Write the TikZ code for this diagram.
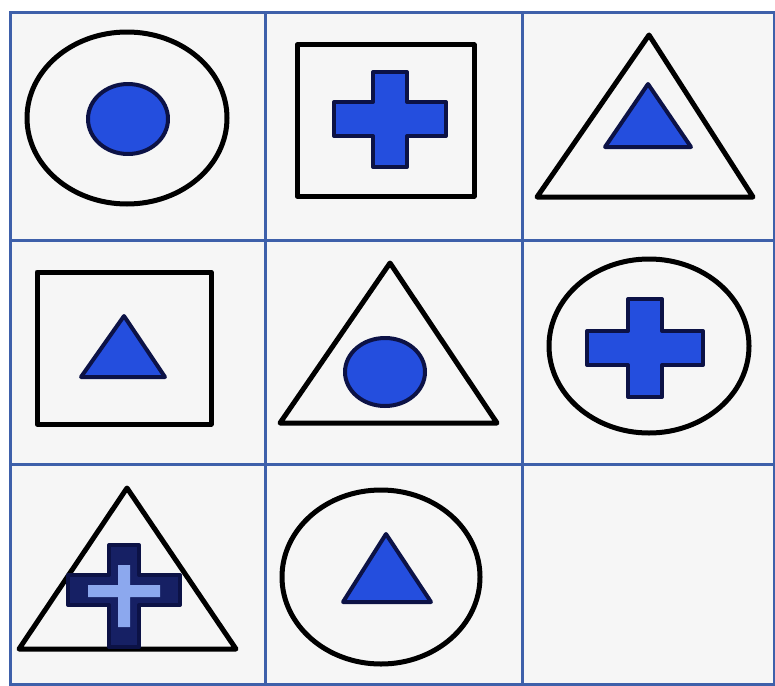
\documentclass[tikz,border=0pt]{standalone}
\usepackage{xcolor}
\usepackage{tikz}
\definecolor{gridblue}{RGB}{62,96,170}
\definecolor{shapeblue}{RGB}{36,78,222}
\definecolor{shapenavy}{RGB}{12,18,70}
\definecolor{shapedark}{RGB}{22,32,100}
\definecolor{shapelight}{RGB}{140,168,238}
\definecolor{paper}{RGB}{246,246,246}

% plus sign: centre x, centre y, arm left/right, arm up, arm down, half thickness
\newcommand{\plussign}[7]{%
  \draw[#1] (#2-#7,#3-#5) -- (#2+#7,#3-#5) -- (#2+#7,#3-#7)
    -- (#2+#4,#3-#7) -- (#2+#4,#3+#7) -- (#2+#7,#3+#7)
    -- (#2+#7,#3+#6) -- (#2-#7,#3+#6) -- (#2-#7,#3+#7)
    -- (#2-#4,#3+#7) -- (#2-#4,#3-#7) -- (#2-#7,#3-#7) -- cycle;}

\begin{document}
\begin{tikzpicture}[
          x=1pt, y=-1pt,
          gridline/.style={draw=gridblue, line width=3pt},
          outline/.style={draw=black, line width=5pt, line join=round},
          bluefill/.style={fill=shapeblue, draw=shapenavy,
                           line width=4pt, line join=round},
          darkfill/.style={fill=shapedark, draw=shapenavy,
                           line width=4pt, line join=round},
          lightfill/.style={fill=shapelight, draw=none}]
        \useasboundingbox[fill=white] (0,0) rectangle (775,685);
        \fill[paper] (10,13) rectangle (775,685);
        % grid
        \draw[gridline] (10,13) rectangle (774,684);
        \draw[gridline] (265,13) -- (265,684);
        \draw[gridline] (522,13) -- (522,684);
        \draw[gridline] (10,240) -- (774,240);
        \draw[gridline] (10,464) -- (774,464);
        % row 1
        \draw[outline] (127,118) ellipse [x radius=100, y radius=86];
        \draw[bluefill] (128,119) ellipse [x radius=40, y radius=35];
        \draw[outline] (297,45) rectangle (474,196);
        \plussign{bluefill}{390}{119}{56}{47}{48}{17}
        \draw[outline] (649,35) -- (753,197) -- (537,197) -- cycle;
        \draw[bluefill] (648,84) -- (691,147) -- (605,147) -- cycle;
        % row 2
        \draw[outline] (37,272) rectangle (211,424);
        \draw[bluefill] (124,316) -- (165,377) -- (81,377) -- cycle;
        \draw[outline] (390,263) -- (497,423) -- (280,423) -- cycle;
        \draw[bluefill] (385,372) ellipse [x radius=40, y radius=34];
        \draw[outline] (649,346) ellipse [x radius=100, y radius=87];
        \plussign{bluefill}{645}{348}{58}{49}{49}{17}
        % row 3
        \draw[outline] (127,488) -- (236,649) -- (19,649) -- cycle;
        \plussign{darkfill}{124}{590}{56}{45}{57}{15}
        \plussign{lightfill}{124}{591}{36}{26}{36}{6}
        \draw[outline] (381,577) ellipse [x radius=99, y radius=87];
        \draw[bluefill] (386,534) -- (431,602) -- (343,602) -- cycle;
      \end{tikzpicture}
\end{document}
